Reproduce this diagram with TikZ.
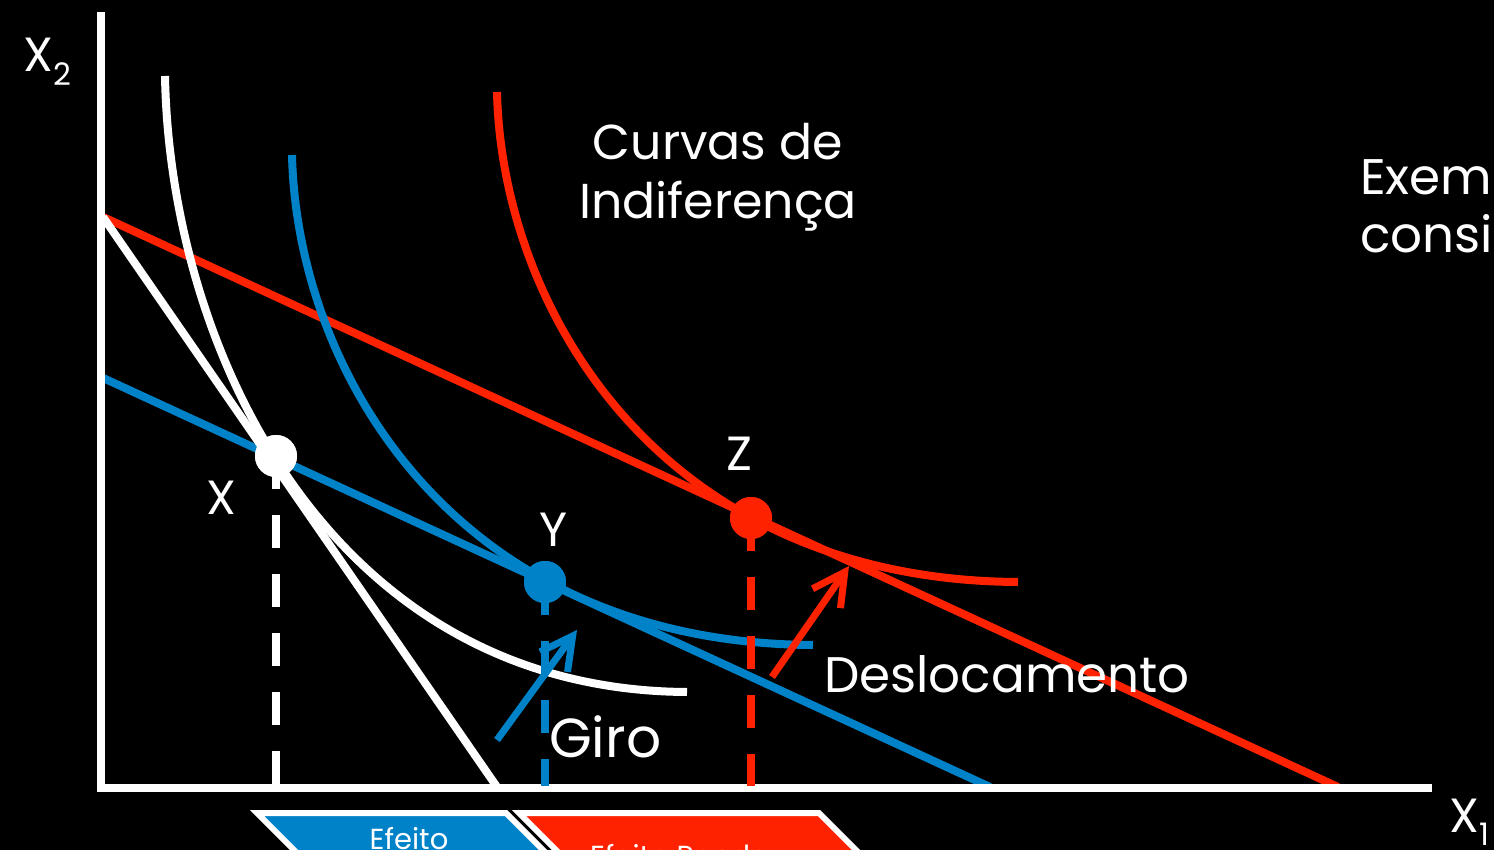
\documentclass[tikz,border=0pt]{standalone}
\usepackage{fontspec}
\setmainfont{Poppins}
\usetikzlibrary{arrows.meta}
\definecolor{cblue}{RGB}{0,130,200}
\definecolor{cred}{RGB}{255,34,0}
\begin{document}
\begin{tikzpicture}[x=1pt,y=-1pt,
  thick8/.style={line width=8pt},
  dashline/.style={line width=8pt, dash pattern=on 33pt off 26pt},
  dot/.style={circle, inner sep=0pt, minimum size=42pt},
  lbl/.style={text=white, inner sep=0pt, anchor=base west, font=\fontsize{48}{48}\selectfont},
  biglbl/.style={text=white, inner sep=0pt, anchor=base west, font=\fontsize{50}{50}\selectfont},
  big/.style={text=white, inner sep=0pt, anchor=base, font=\fontsize{49}{49}\selectfont},
  small/.style={text=white, inner sep=0pt, anchor=base, font=\fontsize{29}{29}\selectfont},
  arr/.style={line width=7pt, -{Straight Barb[length=32pt,width=34pt]}},
  chev/.style={draw=white, line width=6pt, line join=miter}
]
\useasboundingbox (0,0) rectangle (1494,850);
\fill[black] (0,0) rectangle (1494,850);
\clip (0,0) rectangle (1494,850);

% coordinates
\coordinate (ytop) at (101,12);
\coordinate (orig) at (101,788);
\coordinate (xend) at (1432,788);
\coordinate (w1) at (103,217);
\coordinate (w2) at (497,787);
\coordinate (b1) at (101,377);
\coordinate (b2) at (990,787);
\coordinate (r1) at (101,216);
\coordinate (r2) at (1338,787);

% budget lines
\draw[thick8, cblue] (b1) -- (b2);
\draw[thick8, cred] (r1) -- (r2);
\draw[thick8, white] (w1) -- (w2);

% indifference curves
\draw[thick8, white] (165,76) .. controls (170,350) and (330,690) .. (687,692);
\draw[thick8, cblue] (292,155) .. controls (297,373) and (456,643) .. (813,645);
\draw[thick8, cred] (497,92) .. controls (502,310) and (661,580) .. (1018,582);

% axes
\draw[thick8, white, line join=miter] (ytop) -- (orig) -- (xend);

% points
\node[dot, fill=white] (X) at (276,456) {};
\node[dot, fill=cblue] (Y) at (545,582) {};
\node[dot, fill=cred] (Z) at (751,518) {};
\coordinate (Xb) at (276,786);
\coordinate (Yb) at (545,786);
\coordinate (Zb) at (751,786);

% dashed projections
\draw[dashline, white] (X.center) -- (Xb);
\draw[dashline, cblue] (Y.center) -- (Yb);
\draw[dashline, cred] (Z.center) -- (Zb);
\node[dot, fill=white] at (X) {};
\node[dot, fill=cblue] at (Y) {};
\node[dot, fill=cred] at (Z) {};

% arrows
\coordinate (ga) at (497,740);
\coordinate (gb) at (577,630);
\coordinate (da) at (772,677);
\coordinate (db) at (849,566);
\draw[arr, cblue] (ga) -- (gb);
\draw[arr, cred] (da) -- (db);

% labels
\node[lbl] (x2lab) at (23,72) {X\raisebox{-14pt}{\fontsize{31}{31}\selectfont 2}};
\node[lbl] (x1lab) at (1449,832) {X\raisebox{-13pt}{\fontsize{31}{31}\selectfont 1}};
\node[lbl] (xlab) at (206,514) {X};
\node[lbl] (ylab) at (539,546) {Y};
\node[lbl] (zlab) at (726,470) {Z};
\node[biglbl] (deslab) at (824,692) {Deslocamento};
\node[text=white, inner sep=0pt, anchor=base west, font=\fontsize{55}{55}\selectfont] (girolab) at (549,757) {Giro};
\node[big] (curv1) at (718,160) {Curvas de};
\node[big] (curv2) at (718,219) {Indiferença};
\node[biglbl] (ex1) at (1360,195) {Exem};
\node[biglbl] (ex2) at (1360,253) {consid};

% chevrons
\draw[chev, fill=cblue] (257,813) -- (506,813) -- (566,873) -- (506,933) -- (257,933) -- (317,873) -- cycle;
\draw[chev, fill=cred] (519,813) -- (819,813) -- (879,873) -- (819,933) -- (519,933) -- (579,873) -- cycle;
\node[small] (ef1) at (409,849) {Efeito};
\node[small] (ef2) at (680,866) {Efeito Renda};
\end{tikzpicture}
\end{document}
